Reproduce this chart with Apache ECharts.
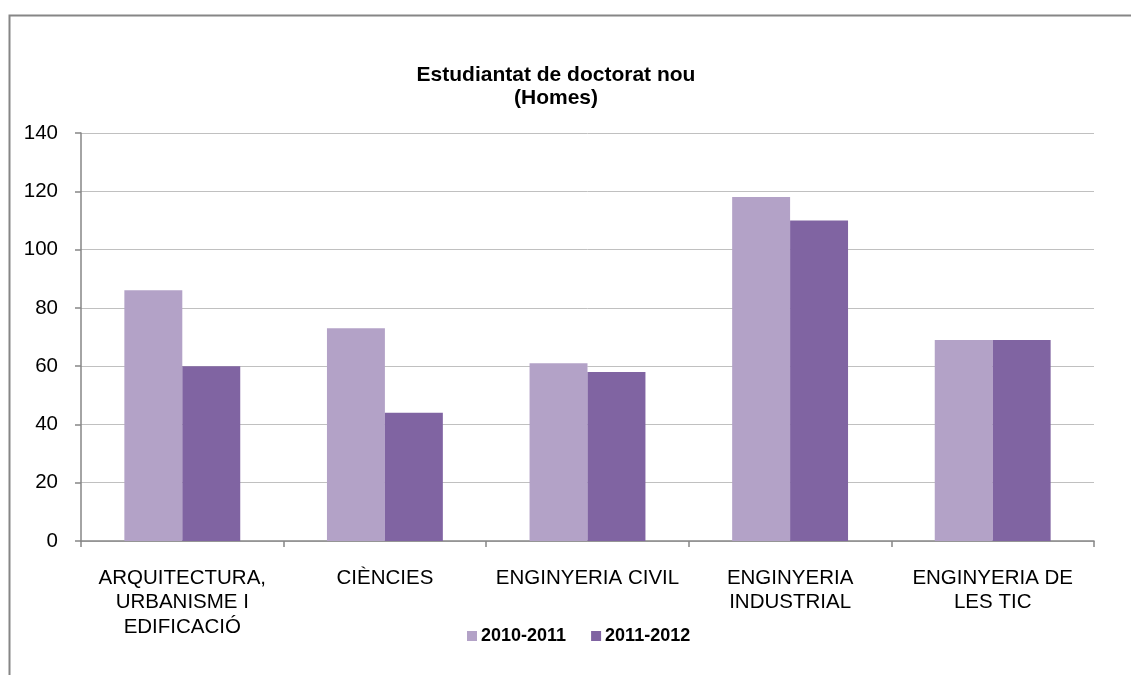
<!DOCTYPE html>
<html>
<head>
<meta charset="utf-8">
<script src="https://cdn.jsdelivr.net/npm/echarts@6/dist/echarts.min.js"></script>
<style>
html,body{margin:0;padding:0;background:#fff;}
#chart{width:1131px;height:675px;}
</style>
</head>
<body>
<div id="chart"></div>
<script>
const titleLines = ['Estudiantat de doctorat nou', '(Homes)'];
const categories = ['ARQUITECTURA,\nURBANISME I\nEDIFICACIÓ', 'CIÈNCIES', 'ENGINYERIA CIVIL', 'ENGINYERIA\nINDUSTRIAL', 'ENGINYERIA DE\nLES TIC'];
const seriesNames = ['2010-2011', '2011-2012'];
const values2010 = [86, 73, 61, 118, 69];
const values2011 = [60, 44, 58, 110, 69];
const yTicks = [0, 20, 40, 60, 80, 100, 120, 140];

const FONT = '"Liberation Sans", Arial, sans-serif';
const chart = echarts.init(document.getElementById('chart'), null, {renderer: 'canvas'});
chart.setOption({
  animation: false,
  backgroundColor: '#ffffff',
  graphic: [{
    type: 'rect', left: 7, top: 13,
    shape: {width: 1300, height: 800},
    style: {fill: 'none', stroke: '#868686', lineWidth: 2},
    z: -1
  }],
  title: {
    text: titleLines.join('\n'),
    left: 556, top: 64, textAlign: 'center', padding: 0,
    textStyle: {fontFamily: FONT, fontWeight: 'bold', fontSize: 21, lineHeight: 23, color: '#000'}
  },
  legend: {
    data: seriesNames,
    left: 467, top: 627, padding: 0,
    itemWidth: 10, itemHeight: 10, itemGap: 25, icon: 'rect',
    textStyle: {fontFamily: FONT, fontWeight: 'bold', fontSize: 18, color: '#000', padding: [0, 0, 0, -1]}
  },
  grid: {left: 81, right: 37, top: 133, bottom: 134, containLabel: false},
  xAxis: {
    type: 'category', data: categories,
    axisLine: {lineStyle: {color: '#868686', width: 1.5}},
    axisTick: {show: true, length: 6, lineStyle: {color: '#868686', width: 1.5}},
    axisLabel: {fontFamily: FONT, fontSize: 20.5, color: '#000', margin: 25, lineHeight: 24.5, interval: 0}
  },
  yAxis: {
    type: 'value', min: yTicks[0], max: yTicks[yTicks.length - 1], interval: 20,
    axisLine: {show: true, lineStyle: {color: '#868686', width: 1.5}},
    axisTick: {show: true, length: 6, lineStyle: {color: '#868686', width: 1.5}},
    axisLabel: {fontFamily: FONT, fontSize: 20.5, color: '#000', margin: 23},
    splitLine: {lineStyle: {color: '#c0c0c0', width: 1}}
  },
  series: [
    {name: seriesNames[0], type: 'bar', data: values2010, barGap: '0%', barCategoryGap: '42.8%',
     itemStyle: {color: '#B3A2C7'}},
    {name: seriesNames[1], type: 'bar', data: values2011, barGap: '0%', barCategoryGap: '42.8%',
     itemStyle: {color: '#8064A2'}}
  ]
});
</script>
</body>
</html>
